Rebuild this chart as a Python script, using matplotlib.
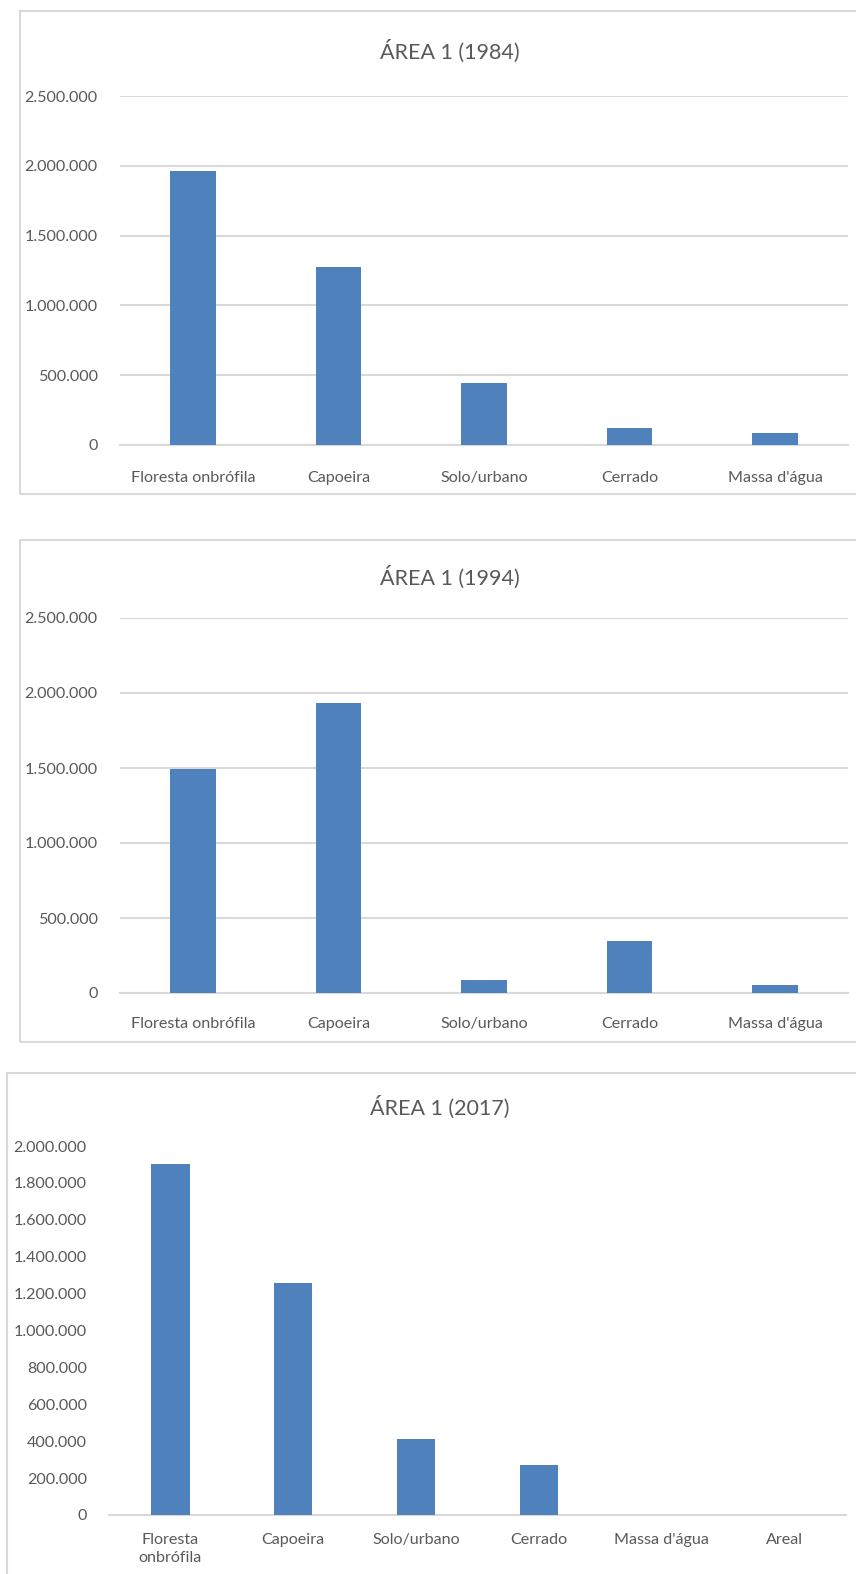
import matplotlib.pyplot as plt
from matplotlib.patches import Rectangle
from matplotlib.ticker import FuncFormatter

plt.rcParams['font.family'] = ['Lato', 'DejaVu Sans']

cats_5 = ['Floresta onbrófila', 'Capoeira', 'Solo/urbano', 'Cerrado', "Massa d'água"]
cats_6 = ['Floresta\nonbrófila', 'Capoeira', 'Solo/urbano', 'Cerrado', "Massa d'água", 'Areal']

area_1984 = [1962000, 1275000, 446000, 122000, 84000]
area_1994 = [1492000, 1932000, 85000, 350000, 51000]
area_2017 = [1900000, 1259000, 410000, 269000, 0, 0]

BAR = '#4F81BD'
TXT = '#595959'
GRID = '#D9D9D9'

W, H = 856, 1574
fig = plt.figure(figsize=(W / 100, H / 100), dpi=100)


def px_axes(left, top, right, bottom):
    return fig.add_axes([left / W, 1 - bottom / H, (right - left) / W, (bottom - top) / H])


def frame(left, top, right, bottom):
    fig.patches.append(Rectangle((left / W, 1 - bottom / H), (right - left) / W, (bottom - top) / H,
                                 transform=fig.transFigure, fill=False, ec=GRID, lw=1.5))


def dots(v, pos):
    return f'{int(v):,}'.replace(',', '.')


def panel(ax, cats, vals, ymax, step, title, title_x, title_y, xpad, grid=True):
    x = range(len(cats))
    ax.bar(x, vals, width=0.313, color=BAR, zorder=3)
    ax.set_xlim(-0.5, len(cats) - 0.5)
    ax.set_ylim(0, ymax)
    ax.set_yticks(range(0, ymax + 1, step))
    ax.yaxis.set_major_formatter(FuncFormatter(dots))
    ax.set_xticks(list(x))
    ax.set_xticklabels(cats, linespacing=1.4)
    for s in ['top', 'right', 'left']:
        ax.spines[s].set_visible(False)
    ax.spines['bottom'].set_color(GRID)
    ax.spines['bottom'].set_linewidth(1.5)
    ax.tick_params(length=0, colors=TXT, labelsize=11.6)
    ax.tick_params(axis='x', pad=xpad)
    ax.tick_params(axis='y', pad=16)
    if grid:
        ax.yaxis.grid(True, color=GRID, lw=1.5)
    ax.set_axisbelow(True)
    fig.text(title_x / W, 1 - title_y / H, title,
             ha='center', va='center', fontsize=15.5, color=TXT)


frame(19.5, 10.5, 860, 494)
ax1 = px_axes(120, 96, 848, 445)
panel(ax1, cats_5, area_1984, 2500000, 500000, 'ÁREA 1 (1984)', 450, 51, 19)

frame(19.5, 540, 860, 1042)
ax2 = px_axes(120, 618, 848, 993)
panel(ax2, cats_5, area_1994, 2500000, 500000, 'ÁREA 1 (1994)', 450, 577, 17)

frame(6.5, 1073, 860, 1580)
ax3 = px_axes(109, 1146, 846, 1515)
panel(ax3, cats_6, area_2017, 2000000, 200000, 'ÁREA 1 (2017)', 440, 1107, 13, grid=False)

fig.savefig('out.png', dpi=100, facecolor='white')
